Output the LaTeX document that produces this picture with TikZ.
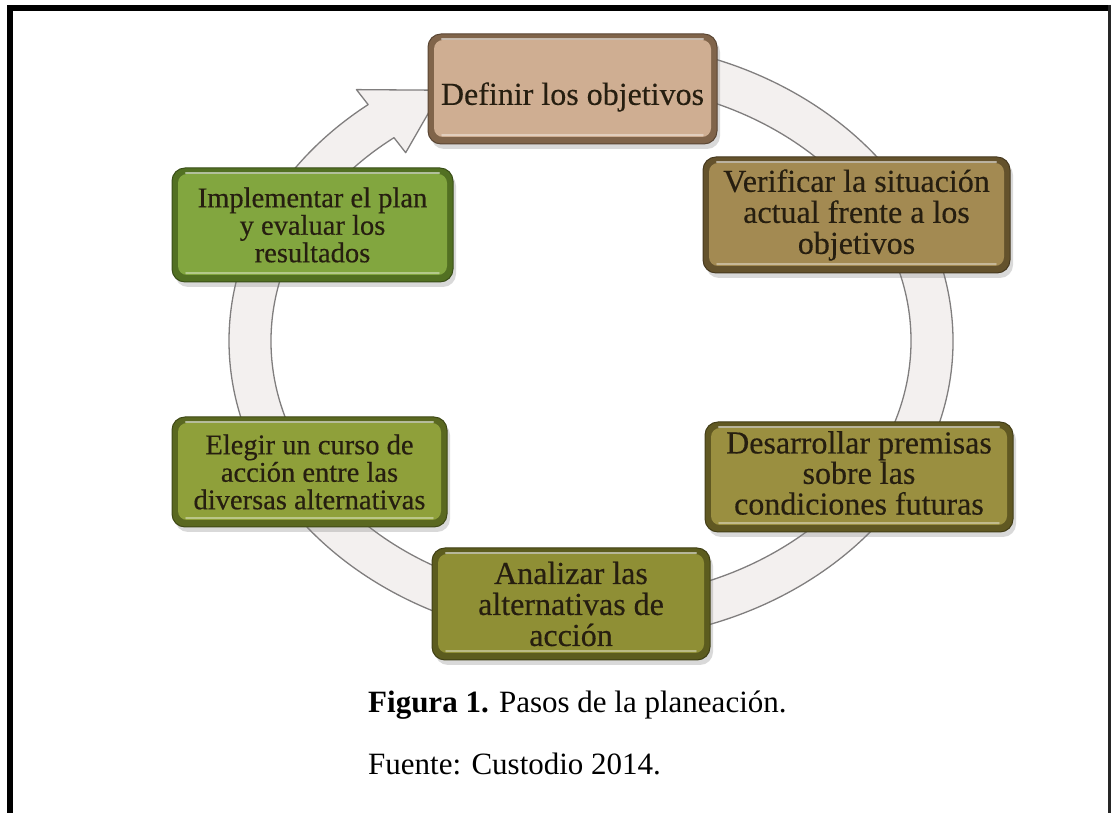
\documentclass[tikz,border=0pt]{standalone}
\usepackage{fontspec}
\setmainfont{Liberation Serif}
\newfontfamily\boxfont[FakeBold=0.4]{Liberation Serif}
\usetikzlibrary{shadows}

\definecolor{ringfill}{HTML}{F3F0EF}
\definecolor{ringedge}{HTML}{807E7E}
\definecolor{boxtext}{HTML}{261E10}
% step colours: face and rim
\definecolor{defface}{HTML}{CFAE92}
\definecolor{defrim}{HTML}{80644A}
\definecolor{verface}{HTML}{A38A52}
\definecolor{verrim}{HTML}{64522C}
\definecolor{impface}{HTML}{82A63F}
\definecolor{imprim}{HTML}{527022}
\definecolor{eleface}{HTML}{8FA03A}
\definecolor{elerim}{HTML}{5A6820}
\definecolor{desface}{HTML}{9A8F40}
\definecolor{desrim}{HTML}{605822}
\definecolor{anaface}{HTML}{8F8F35}
\definecolor{anarim}{HTML}{5C5C1E}

% move the lettering of a step without changing its box
\newcommand{\shiftlabel}[2]{\raisebox{#1}[\height][\depth]{#2}}
\newcommand{\stacklines}[1]{{\renewcommand{\arraystretch}{0.88}\begin{tabular}{@{}c@{}}#1\end{tabular}}}

\tikzset{
  x=1pt, y=1pt,
  stepbox/.style n args={4}{% face, rim, width, height
    rounded corners=13pt, fill=#2, draw=#2!70!black, line width=1pt,
    minimum width=#3, minimum height=#4, inner sep=0pt, align=center,
    text=boxtext, font=\boxfont\fontsize{32}{31}\selectfont,
    drop shadow={shadow xshift=3pt, shadow yshift=-5pt, opacity=.3},
    path picture={
      \fill[#1, rounded corners=9pt]
        ([shift={(6pt,7pt)}]path picture bounding box.south west) rectangle
        ([shift={(-6pt,-6pt)}]path picture bounding box.north east);
      \draw[white, opacity=.55, line width=2.4pt, line cap=round]
        ([shift={(14pt,-5pt)}]path picture bounding box.north west) --
        ([shift={(-14pt,-5pt)}]path picture bounding box.north east);
      \draw[white, opacity=.4, line width=1.6pt, line cap=round]
        ([shift={(14pt,9pt)}]path picture bounding box.south west) --
        ([shift={(-14pt,9pt)}]path picture bounding box.south east);
    }
  },
  smalltext/.style={font=\boxfont\fontsize{28.5}{27.5}\selectfont},
  ring/.style={fill=ringfill, draw=ringedge, line width=1.3pt, line join=round},
  frameline/.style={line width=6pt, black},
}

\begin{document}
\begin{tikzpicture}
\useasboundingbox (0,0) rectangle (1111,813);

% outer frame (open at the bottom)
\draw[frameline] (10,0) -- (10,805) -- (1111,805);
\draw[line width=2.5pt, black!85] (1109.7,808) -- (1109.7,0);

% circular arrow behind the steps
\path[ring]
  ({591+362*cos(128)},{472+300*sin(128)}) --
  ({591+381*cos(128)},{472+319*sin(128)}) --
  ({591+341*cos(116)},{472+279*sin(116)}) --
  ({591+301*cos(128)},{472+239*sin(128)}) --
  ({591+320*cos(128)},{472+258*sin(128)})
  arc[start angle=128, end angle=455, x radius=320, y radius=258] --
  ({591+362*cos(455)},{472+300*sin(455)})
  arc[start angle=455, end angle=128, x radius=362, y radius=300] -- cycle;

% the six steps
\node[stepbox={defface}{defrim}{289pt}{110pt}] (def) at (572.5,724)
  {\shiftlabel{-8pt}{Definir los objetivos}};
\node[stepbox={verface}{verrim}{307pt}{116pt}] (ver) at (856.5,598)
  {Verificar la situación\\actual frente a los\\objetivos};
\node[stepbox={desface}{desrim}{308pt}{110pt}] (des) at (859,336)
  {\shiftlabel{0pt}{\stacklines{Desarrollar premisas\\sobre las\\condiciones futuras}}};
\node[stepbox={anaface}{anarim}{278pt}{112pt}] (ana) at (571,209)
  {Analizar las\\alternativas de\\acción};
\node[stepbox={eleface}{elerim}{275pt}{110pt}, smalltext] (ele) at (309.5,341)
  {Elegir un curso de\\acción entre las\\diversas alternativas};
\node[stepbox={impface}{imprim}{281pt}{114pt}, smalltext] (imp) at (312.5,588)
  {Implementar el plan\\y evaluar los\\resultados};

% caption
\node[anchor=base west, font=\fontsize{31}{36}\selectfont, inner sep=0pt] (cap) at (368,100)
  {\textbf{Figura 1.} Pasos de la planeación.};
\node[anchor=base west, font=\fontsize{31}{36}\selectfont, inner sep=0pt] (src) at (368,38)
  {Fuente: Custodio 2014.};
\end{tikzpicture}
\end{document}
